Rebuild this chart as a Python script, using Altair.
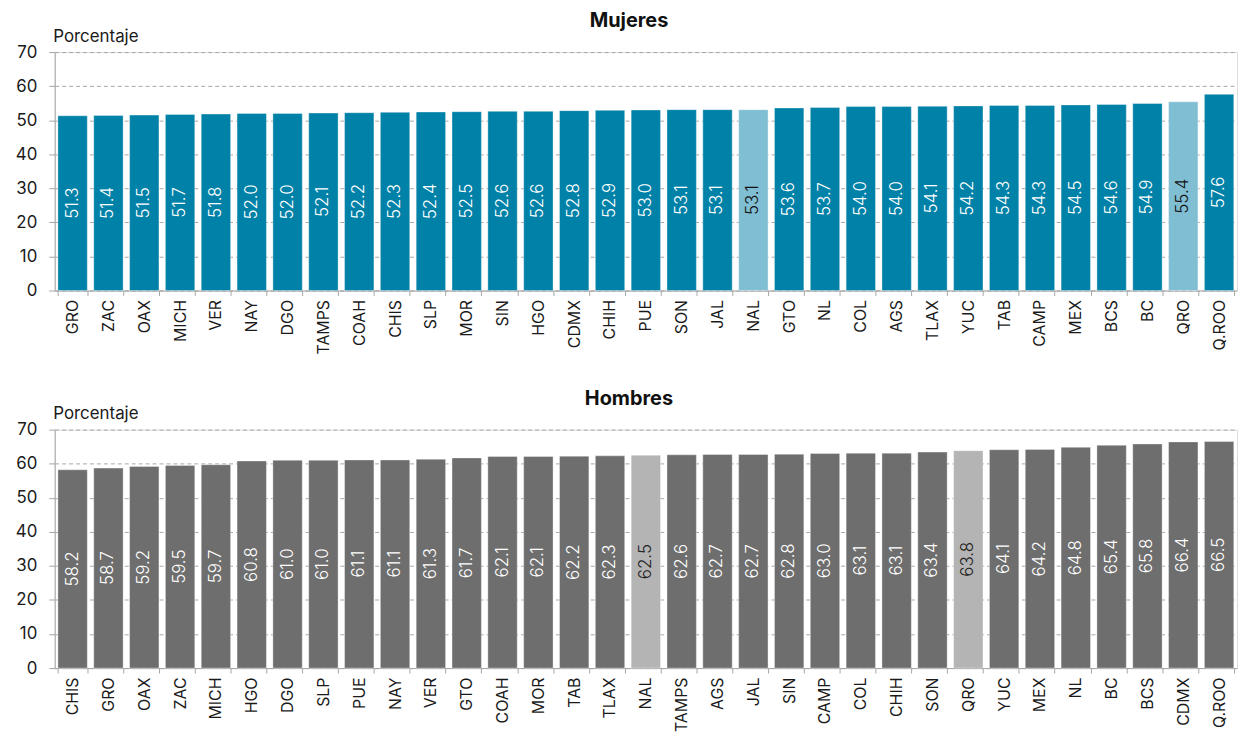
import altair as alt
import pandas as pd

estados_m = ["GRO", "ZAC", "OAX", "MICH", "VER", "NAY", "DGO", "TAMPS", "COAH", "CHIS",
             "SLP", "MOR", "SIN", "HGO", "CDMX", "CHIH", "PUE", "SON", "JAL", "NAL",
             "GTO", "NL", "COL", "AGS", "TLAX", "YUC", "TAB", "CAMP", "MEX", "BCS",
             "BC", "QRO", "Q.ROO"]
valores_m = [51.3, 51.4, 51.5, 51.7, 51.8, 52.0, 52.0, 52.1, 52.2, 52.3,
             52.4, 52.5, 52.6, 52.6, 52.8, 52.9, 53.0, 53.1, 53.1, 53.1,
             53.6, 53.7, 54.0, 54.0, 54.1, 54.2, 54.3, 54.3, 54.5, 54.6,
             54.9, 55.4, 57.6]

estados_h = ["CHIS", "GRO", "OAX", "ZAC", "MICH", "HGO", "DGO", "SLP", "PUE", "NAY",
             "VER", "GTO", "COAH", "MOR", "TAB", "TLAX", "NAL", "TAMPS", "AGS", "JAL",
             "SIN", "CAMP", "COL", "CHIH", "SON", "QRO", "YUC", "MEX", "NL", "BC",
             "BCS", "CDMX", "Q.ROO"]
valores_h = [58.2, 58.7, 59.2, 59.5, 59.7, 60.8, 61.0, 61.0, 61.1, 61.1,
             61.3, 61.7, 62.1, 62.1, 62.2, 62.3, 62.5, 62.6, 62.7, 62.7,
             62.8, 63.0, 63.1, 63.1, 63.4, 63.8, 64.1, 64.2, 64.8, 65.4,
             65.8, 66.4, 66.5]

destacados = ["NAL", "QRO"]
y_ticks = [0, 10, 20, 30, 40, 50, 60, 70]

FONT = "Inter"
AXIS_GRAY = "#a6a6a6"


def panel(estados, valores, titulo, c_main, c_hi, t_main, t_hi):
    df = pd.DataFrame({"estado": estados, "valor": valores})
    df["grupo"] = ["hi" if e in destacados else "main" for e in estados]
    df["mitad"] = df["valor"] / 2
    df["etiqueta"] = [f"{v:.1f}" for v in valores]

    xscale = alt.Scale(paddingInner=0.18, paddingOuter=0.09)
    yscale = alt.Scale(domain=[0, 70], nice=False)
    xaxis = alt.Axis(labelAngle=-90, labelAlign="right", labelBaseline="middle",
                     labelFontSize=16, labelColor="#1a1a1a", labelFont=FONT,
                     tickBand="extent", tickSize=5, labelPadding=4,
                     domainColor=AXIS_GRAY, tickColor=AXIS_GRAY, grid=False)
    yaxis = alt.Axis(values=y_ticks, title="Porcentaje", titleAngle=0,
                     titleAlign="left", titleX=-2, titleY=-11,
                     titleBaseline="alphabetic", titleFontWeight="normal",
                     titleFontSize=17, titleFont=FONT, titleColor="#1a1a1a",
                     labelFontSize=17, labelFont=FONT, labelColor="#1a1a1a",
                     labelOverlap=False,
                     tickSize=6, labelPadding=12,
                     gridDash=[4, 3], gridColor=AXIS_GRAY,
                     domainColor=AXIS_GRAY, tickColor=AXIS_GRAY)

    bars = alt.Chart(df).mark_bar(stroke="white", strokeWidth=0.6, strokeOpacity=0.6).encode(
        x=alt.X("estado:N", sort=estados, title=None, scale=xscale, axis=xaxis),
        y=alt.Y("valor:Q", scale=yscale, axis=yaxis),
        color=alt.Color("grupo:N", scale=alt.Scale(domain=["main", "hi"], range=[c_main, c_hi]),
                        legend=None),
    )
    text = alt.Chart(df).mark_text(angle=270, align="center", baseline="middle",
                                   fontSize=17, font=FONT, fontWeight=300).encode(
        x=alt.X("estado:N", sort=estados, title=None, scale=xscale, axis=xaxis),
        y=alt.Y("mitad:Q", scale=yscale, axis=yaxis),
        text="etiqueta:N",
        color=alt.Color("grupo:N", scale=alt.Scale(domain=["main", "hi"], range=[t_main, t_hi]),
                        legend=None),
    )
    return alt.layer(bars, text).resolve_scale(color="independent").properties(
        width=1190, height=240,
        title=alt.TitleParams(titulo, anchor="middle", fontSize=20, font=FONT,
                              fontWeight="bold", color="#111", dx=-17, offset=-4),
    )


top = panel(estados_m, valores_m, "Mujeres", "#0081a7", "#80bed3", "white", "#111")
bottom = panel(estados_h, valores_h, "Hombres", "#6e6e6e", "#b4b4b4", "white", "#222")

chart = alt.vconcat(top, bottom, spacing=33).properties(
    padding={"left": 6, "top": 0, "right": 0, "bottom": 0}
).configure_view(stroke=None).configure(background="white")

chart.save("out.html", embed_options={"renderer": "svg", "actions": False})
